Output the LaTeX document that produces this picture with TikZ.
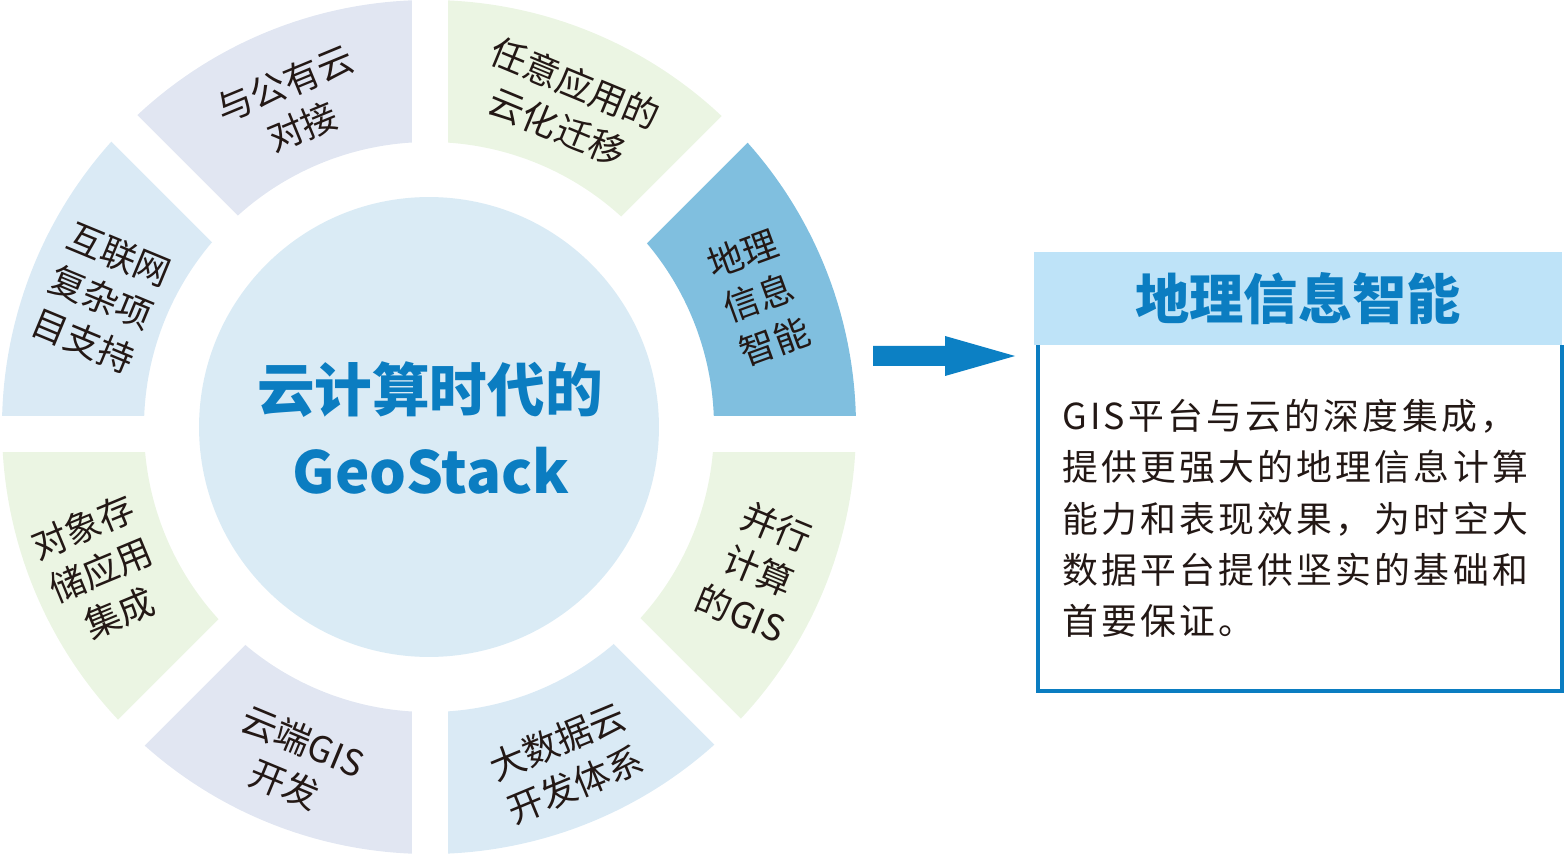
\documentclass[tikz,border=0pt]{standalone}
\usepackage{fontspec}
\setmainfont{Noto Sans CJK SC}
\newfontfamily\descfont[LetterSpace=9]{Noto Sans CJK SC}
\usepackage{xcolor}
\usepackage{tikz}
\usetikzlibrary{positioning}

\definecolor{ringgreen}{HTML}{EBF5E3}
\definecolor{ringlilac}{HTML}{E1E6F2}
\definecolor{ringsky}{HTML}{DAEAF5}
\definecolor{ringblue}{HTML}{80BFDF}
\definecolor{hubfill}{HTML}{DAEBF5}
\definecolor{titleblue}{HTML}{0B7DC1}
\definecolor{headfill}{HTML}{BEE3F8}
\definecolor{arrowblue}{HTML}{0C80C4}
\definecolor{ink}{HTML}{231815}

\begin{document}
\begin{tikzpicture}[x=0.02cm, y=0.02cm,
    gap/.style={white, line width=0.74cm},
    seglabel/.style={align=center, text=ink, inner sep=0pt, font=\fontsize{20.4}{26.6}\selectfont},
    hub/.style={circle, fill=hubfill, minimum size=9.2cm, inner sep=0pt},
    hubtitle/.style={text=titleblue, inner sep=0pt, font=\bfseries\fontsize{32.8}{36}\selectfont},
    headbox/.style={fill=headfill, text=titleblue, minimum width=10.56cm, minimum height=1.86cm, inner sep=0pt, font=\bfseries\fontsize{30.9}{34}\selectfont},
    boxline/.style={draw=titleblue, line width=0.08cm},
    desc/.style={align=left, text=ink, inner sep=0pt, font=\descfont\fontsize{20.4}{29.2}\selectfont}]
            \useasboundingbox (-429,-428) rectangle (1135,427);

            \fill[ringblue] (0:285) arc[start angle=0, end angle=45, radius=285] -- (45:427) arc[start angle=45, end angle=0, radius=427] -- cycle;
            \fill[ringgreen] (45:285) arc[start angle=45, end angle=90, radius=285] -- (90:427) arc[start angle=90, end angle=45, radius=427] -- cycle;
            \fill[ringlilac] (90:285) arc[start angle=90, end angle=135, radius=285] -- (135:427) arc[start angle=135, end angle=90, radius=427] -- cycle;
            \fill[ringsky] (135:285) arc[start angle=135, end angle=180, radius=285] -- (180:427) arc[start angle=180, end angle=135, radius=427] -- cycle;
            \fill[ringgreen] (180:285) arc[start angle=180, end angle=225, radius=285] -- (225:427) arc[start angle=225, end angle=180, radius=427] -- cycle;
            \fill[ringlilac] (225:285) arc[start angle=225, end angle=270, radius=285] -- (270:427) arc[start angle=270, end angle=225, radius=427] -- cycle;
            \fill[ringsky] (270:285) arc[start angle=270, end angle=315, radius=285] -- (315:427) arc[start angle=315, end angle=270, radius=427] -- cycle;
            \fill[ringgreen] (315:285) arc[start angle=315, end angle=360, radius=285] -- (360:427) arc[start angle=360, end angle=315, radius=427] -- cycle;

            \begin{scope}[shift={(1,-7)}]
            \draw[gap] (0:440) -- (180:440);
            \draw[gap] (45:440) -- (225:440);
            \draw[gap] (90:440) -- (270:440);
            \draw[gap] (135:440) -- (315:440);

            \node[seglabel, rotate=20] (lbl-geo) at (22.5:356) {地理\\信息\\智能};
            \node[seglabel, rotate=-22.5] (lbl-move) at (67.5:356) {任意应用的\\云化迁移};
            \node[seglabel, rotate=22.5] (lbl-public) at (112.5:356) {与公有云\\对接};
            \node[seglabel, rotate=-22.5] (lbl-web) at (157.5:356) {互联网\\复杂项\\目支持};
            \node[seglabel, rotate=22.5] (lbl-store) at (202.5:356) {对象存\\储应用\\集成};
            \node[seglabel, rotate=-22.5] (lbl-dev) at (247.5:356) {云端GIS\\开发};
            \node[seglabel, rotate=22.5] (lbl-big) at (292.5:356) {大数据云\\开发体系};
            \node[seglabel, rotate=-22.5] (lbl-par) at (337.5:356) {并行\\计算\\的GIS};
            \end{scope}

            \node[hub] (hub) at (0,0) {};
            \node[hubtitle] (hub-cn) at (1,37) {云计算时代的};
            \node[hubtitle, font=\bfseries\fontsize{33}{37}\selectfont] (hub-en) at (2,-44) {GeoStack};

            \coordinate (tail) at (444,71);
            \fill[arrowblue] (tail) ++(0,10) -- ++(72,0) -- ++(0,10) -- ++(70,-20) -- ++(-70,-20) -- ++(0,10) -- ++(-72,0) -- cycle;

            \node[headbox] (head) at (869,128.5) {地理信息智能};
            \coordinate (foot) at (871,-264);
            \draw[boxline] ([xshift=0.08cm]head.south west) |- (foot) -| (head.south east);
            \node[desc, anchor=north west] (text) at (633,28) {GIS平台与云的深度集成，\\提供更强大的地理信息计算\\能力和表现效果，为时空大\\数据平台提供坚实的基础和\\首要保证。};
\end{tikzpicture}
\end{document}
